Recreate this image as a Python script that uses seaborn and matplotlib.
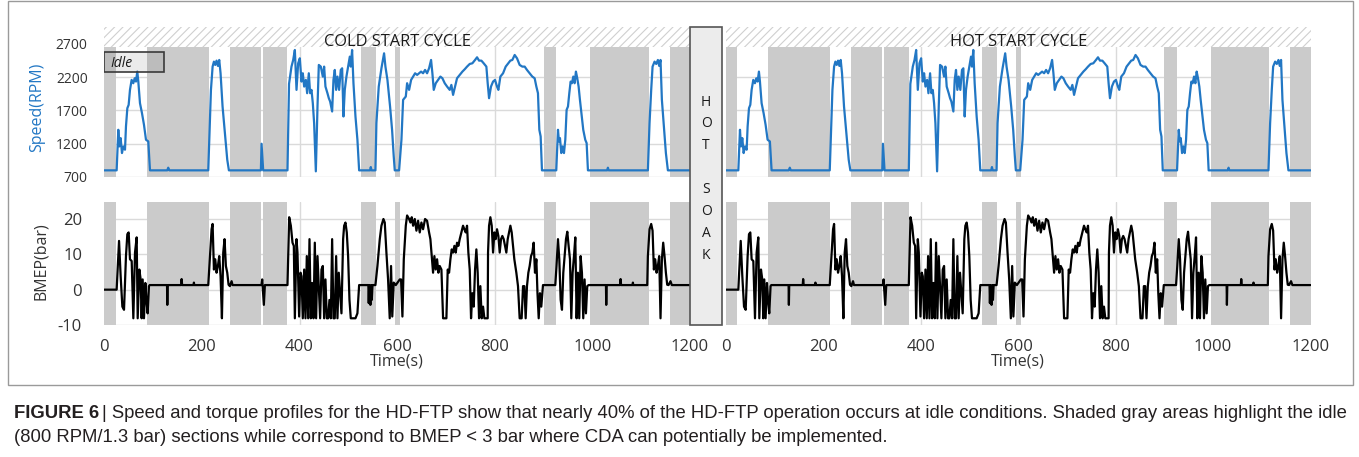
import numpy as np
import pandas as pd
import matplotlib
matplotlib.use("Agg")
import matplotlib.pyplot as plt
import seaborn as sns
from matplotlib.patches import Rectangle

# ---------------- data ----------------
speed_time = [0, 25.3, 28.7, 30.8, 33.5, 36.2, 39.0, 42.4, 44.4, 47.2, 49.9, 52.6, 56.0, 59.4, 62.2,
              64.9, 67.6, 69.7, 73.1, 77.2, 81.3, 85.4, 90.1, 93.6, 129, 131, 133, 213, 218.5, 221.9,
              224.6, 227.3, 230.0, 232.8, 235.5, 238.2, 242.3, 247.1, 251.9, 255.3, 320.8, 322.2, 325.5,
              375.3, 378.5, 383.5, 387, 390.4, 393.8, 397.2, 400.6, 404, 406.7, 409.5, 412.9, 415.6, 419,
              421.7, 424.5, 427.2, 429.9, 433.4, 436.8, 439.5, 443.6, 447.7, 450.4, 453.1, 457.2, 460,
              462.7, 466.8, 469.5, 472.2, 475, 477.7, 481.1, 484.5, 487.3, 490, 492.7, 496.1, 499.5, 503,
              505, 507.7, 510.5, 514.6, 518.6, 522.1, 544.5, 546, 547.5, 555.5, 557.5, 562.3, 567.8, 573.2,
              576, 580.1, 585.5, 589.6, 593, 595.1, 604, 608.8, 612.2, 617.7, 620.4, 624.5, 628.6, 632.7,
              636.8, 640.9, 645, 649, 653.1, 657.2, 661.3, 665.4, 669.5, 672.2, 675, 679.1, 683.8, 688.6,
              692.7, 697.5, 702.3, 707.7, 711.1, 714.6, 718.6, 722.7, 728.2, 733.7, 738.4, 743.2, 748.7,
              754.1, 759.6, 763.7, 767.8, 772.6, 777.3, 782.8, 785.5, 788.3, 792.3, 796.5, 800.5, 804.6,
              807.4, 811.5, 817, 822.4, 827.8, 831.9, 836, 840.8, 845.6, 851, 856.5, 861.3, 866, 871.5,
              876.9, 881.7, 885.2, 888.5, 891.3, 894, 896.7, 926, 929.5, 931.5, 933.6, 936.3, 939, 941.8,
              944.5, 947.2, 950, 952.7, 955.4, 958.1, 960.9, 963.6, 966.3, 969, 971.8, 974.5, 977.2, 981.3,
              985.4, 988.2, 990.9, 1030.3, 1031.8, 1033.3, 1113.7, 1117.1, 1120.5, 1123.3, 1127.4, 1130.8,
              1134.2, 1136.9, 1139.6, 1142.4, 1146.5, 1150.6, 1154.7, 1200]
speed_rpm = [800, 800, 1410, 1160, 1285, 1060, 1160, 1110, 1460, 1735, 1785, 2010, 2160, 2110, 2185,
             2135, 2285, 2135, 1810, 1660, 1485, 1260, 1235, 800, 800, 840, 800, 800, 2010, 2360,
             2435, 2385, 2450, 2370, 2460, 2260, 1760, 1360, 960, 800, 800, 1200, 800,
             800, 2100, 2360, 2460, 2610, 2010, 2410, 2485, 2135, 2260, 2060, 2160, 1960, 2260,
             1960, 2010, 1810, 1510, 785, 1760, 2385, 2360, 2210, 2360, 2060, 1960, 1885,
             1835, 1685, 2160, 2310, 2010, 2210, 2010, 2310, 2335, 1610, 2010, 2210, 2360, 2510,
             2360, 2610, 2110, 1610, 1260, 800, 800, 850, 800, 800, 1510, 2060, 2335, 2560,
             2360, 2160, 1760, 1410, 1010, 800, 800, 1260, 1860, 1910, 2110, 2010, 2160, 2210,
             2260, 2235, 2260, 2285, 2260, 2310, 2260, 2335, 2460, 2260, 2010, 2110, 2160, 2210,
             2185, 2110, 2060, 2010, 2085, 1935, 2060, 2185, 2235, 2285, 2320, 2360, 2400,
             2410, 2460, 2500, 2450, 2450, 2410, 2360, 2110, 1885, 2060, 2135, 2160, 2060,
             2010, 2210, 2260, 2360, 2410, 2450, 2460, 2535, 2485, 2385, 2360, 2360, 2310, 2260,
             2210, 2185, 2060, 1960, 1410, 1310, 800, 800, 1410, 1235, 1285, 1060, 1160, 1060,
             1260, 1710, 1760, 1960, 2135, 2110, 2210, 2110, 2285, 2185, 2060, 1860, 1685, 1410,
             1260, 1210, 800, 800, 840, 800, 800, 1510, 2010, 2360, 2435, 2400,
             2460, 2370, 2460, 1860, 1460, 1060, 800, 800]

bmep_time = [0, 25.3, 30.2, 33.5, 37, 40.4, 44.4, 47.2, 49.9, 52.6, 56.1, 59.5, 62.9, 66.3, 68.4, 71.8,
             74.5, 76.5, 78.6, 81.3, 84.1, 86.8, 88.8, 91.5, 93, 128.5, 129.1, 129.8, 157.5, 158.4, 159.5,
             183, 183.6, 184.3, 213, 219.8, 221.9, 224.6, 227.3, 230, 232.8, 235.5, 238.2, 241, 243.7,
             246.4, 249.1, 251.9, 254.6, 257.3, 260.8, 262.8, 322, 323.5, 326.9, 329, 375.3, 378.8, 382.2,
             385.6, 388.3, 390.4, 393.8, 395.8, 399.2, 402, 404, 406.7, 409.5, 412.2, 414.9, 417.7, 420.4,
             423.1, 425.8, 428.6, 431.3, 434, 436.8, 439.5, 442.2, 445, 447.7, 450.4, 453.1, 455.9, 458.6,
             461.3, 464.1, 466.8, 469.5, 472.2, 475, 477.7, 480.4, 483.2, 485.9, 489.3, 491.4, 494.1,
             496.8, 499.5, 502.3, 505, 510.5, 514.6, 518.6, 522.1, 541, 541.8, 542.8, 545.2, 546.5, 548,
             549.5, 555.5, 559.6, 564.4, 567.8, 571.9, 574.6, 578, 581.4, 584.8, 587.5, 590, 593, 597.2,
             605.4, 608, 610.8, 613.6, 617.7, 620.4, 624.5, 627.2, 629.9, 632.7, 636.1, 639.5, 642.9,
             646.3, 649.7, 653.1, 657.2, 661.3, 665.4, 668.1, 670.9, 673.6, 676.3, 679.1, 681.8, 684.5,
             687.2, 690.7, 694.1, 700.9, 703.6, 706.4, 709.1, 711.8, 714.6, 717.3, 720, 722.7, 725.5,
             728.2, 731.6, 735, 737.7, 740.5, 743.2, 745.9, 748.7, 751.4, 754.1, 756.9, 759.6, 762.3, 765,
             767.8, 770.5, 773.2, 776, 778.7, 785.5, 786.2, 788.3, 791, 793.8, 796.5, 799.2, 801.9, 804.6,
             807.4, 810.1, 812.8, 815.5, 818.3, 821, 823.7, 826.5, 829.2, 832, 834.7, 837.4, 840.1, 844.2,
             847.6, 851, 855.1, 857.9, 860.6, 863.3, 866, 868.8, 871.5, 874.3, 877, 879.7, 882.4, 885.2,
             887.5, 890, 892.6, 895.3, 898.8, 924, 926.5, 929.5, 932.2, 935, 937.7, 940.4, 943.1, 945.9,
             948.6, 951.3, 954.1, 956.8, 959.5, 962.3, 965, 967.7, 970.4, 973.1, 975.9, 978.6, 981.3, 984,
             986.8, 989.5, 992.2, 1027.8, 1028.4, 1029.2, 1057, 1057.8, 1058.8, 1082.3, 1083, 1083.8,
             1112.4, 1113.7, 1117.1, 1120.5, 1123.3, 1126, 1128.7, 1131.5, 1134.2, 1136.9, 1139.6, 1142.4,
             1145.1, 1147.8, 1150.6, 1153.3, 1156, 1160, 1162.8, 1200]
bmep_bar = [0, 0, 13.8, 3.8, -4.8, -5.7, 9.5, 15.7, 16.2, 8.6, 8.1, -8.1, 10.5, 14.8, -8.1, 5.7,
            2.9, -8.1, 2.9, -8.1, 1.9, -3.8, -6.7, 1.0, 1.3, 1.3, -4.3, 1.3, 1.3, 3.0, 1.3,
            1.3, 2.0, 1.3, 1.3, 17.1, 18.6, 5.7, 8.6, 4.8, 6.7, 9.5, 3.8, -8.1, 10.5,
            14.3, 6.7, 4.8, 1.4, 1.0, 2.4, 1.3, 1.3, 2.9, -4.3, 1.3, 1.3, 20.5, 18.1,
            13.3, 12.4, -8.1, 14.3, 10.5, -7.6, 4.8, 3.8, -8.1, 5.7, -8.1, 9.5, -8.1, 14.3,
            -8.1, 1.9, -8.1, 13.3, -8.1, 9.5, 1.0, -8.1, 5.7, 6.7, -8.1, 2.9, -8.1, -8.1,
            -2.9, -8.1, 14.3, -8.1, -8.1, 9.5, -8.1, 4.8, -1.0, -6.7, 14.3, 18.1, 19.0,
            16.2, 9.5, -2.9, -8.1, -8.1, -8.1, -6.7, 1.3, 1.3, -3.8, 1.3, -4.3, 1.3, -2.9,
            1.3, 1.3, 6.7, 14.3, 18.1, 20.0, 19.0, 10.5, 2.9, -8.1, 6.7, -7.6, 2.0, 1.3,
            2.9, 2.9, -7.6, 8.6, 18.1, 21.0, 20.0, 19.0, 20.5, 18.1, 20.0, 16.7, 19.5,
            16.2, 19.0, 17.1, 20.0, 19.5, 16.2, 14.3, 9.5, 4.8, 9.5, 5.7, 8.6, 4.8,
            6.7, 5.7, -8.1, -8.1, 5.7, 4.8, 8.6, 11.4, 10.5, 12.4, 10.5, 13.3, 12.4,
            14.3, 16.2, 18.1, 17.1, 16.2, 18.1, 10.5, 5.7, -8.1, -1.0, -4.8, 5.7, 11.4, 4.8,
            -8.1, 1.0, -8.1, -4.8, -8.1, -8.1, 10.5, 18.1, 20.5, 18.1, 10.5, 16.2, 14.3, 17.1,
            15.2, 10.5, 14.3, 15.2, 14.3, 12.4, 10.5, 14.3, 16.2, 18.1, 16.2, 12.4, 8.6, 4.8,
            1.0, -8.1, -8.1, 1.0, 1.0, -8.1, 1.0, 4.8, 6.7, 9.5, 10.5, 13.3, 4.8, 8.6,
            -1.0, -8.1, -1.0, -4.8, 1.3, 1.3, 6.7, 14.3, 8.6, -2.9, -5.7, 4.8, 9.5, 14.3,
            16.4, 12.4, 8.6, -8.1, 4.8, 9.5, 14.8, -8.1, 4.8, -8.1, 9.5, 4.8, -8.1, 2.9,
            -6.7, 1.0, 1.3, 1.3, -4.3, 1.3, 1.3, 3.0, 1.3, 1.3, 2.0, 1.3,
            1.3, 9.5, 17.1, 18.6, 16.7, 5.7, 8.6, 4.8, 6.7, 9.5, -8.1, 8.6,
            13.3, 9.5, 4.8, 1.4, 1.3, 2.4, 1.3, 1.3]

idle_start = [0, 87, 257, 325, 526, 596, 900, 996, 1158]
idle_end = [23, 214, 321, 375, 556, 605, 926, 1115, 1200]

cycle_titles = ["COLD START CYCLE", "HOT START CYCLE"]
x_ticks = [0, 200, 400, 600, 800, 1000, 1200]
speed_ticks = [700, 1200, 1700, 2200, 2700]
bmep_ticks = [-10, 0, 10, 20]
soak_letters = ["H", "O", "T", "", "S", "O", "A", "K"]
caption_bold = "FIGURE 6"
caption_line1 = ("| Speed and torque profiles for the HD-FTP show that nearly 40% of the HD-FTP operation "
                 "occurs at idle conditions. Shaded gray areas highlight the idle")
caption_line2 = ("(800 RPM/1.3 bar) sections while correspond to BMEP < 3 bar where CDA can potentially "
                 "be implemented.")

speed_df = pd.DataFrame({"Time(s)": speed_time, "Speed(RPM)": speed_rpm})
bmep_df = pd.DataFrame({"Time(s)": bmep_time, "BMEP(bar)": bmep_bar})

# ---------------- style ----------------
sns.set_theme(style="white")
plt.rcParams["font.family"] = ["Open Sans", "DejaVu Sans"]
plt.rcParams["hatch.linewidth"] = 0.8
plt.rcParams["hatch.color"] = "#cfcfcf"

W, H = 1359, 457
fig = plt.figure(figsize=(W / 100, H / 100), dpi=100)


def fx(px):
    return px / W


def fy(py):
    return 1 - py / H


BLUE = "#2277c4"
SHADE = "#cbcbcb"
GRID = "#dadada"
TXT = "#333333"

cycle_px = [(104.3, 690.0), (726.0, 1310.5)]
sp_top, sp_bot = 27, 177
bm_top, bm_bot = 202, 325
sp_ylim = (700, 700 + (sp_bot - sp_top) * 2000 / 133.0)
bm_ylim = (-10, -10 + (bm_bot - bm_top) * 30 / 106.0)
idle_top_rpm = 2650

# outer frame
fig.add_artist(Rectangle((fx(8), fy(385)), fx(1353) - fx(8), (385 - 1) / H,
                         transform=fig.transFigure, fill=False, edgecolor="#9a9a9a", lw=1.0))

for ci, (x0, x1) in enumerate(cycle_px):
    ax_s = fig.add_axes([fx(x0), fy(sp_bot), (x1 - x0) / W, (sp_bot - sp_top) / H])
    ax_b = fig.add_axes([fx(x0), fy(bm_bot), (x1 - x0) / W, (bm_bot - bm_top) / H])

    for ax, ylim, ticks in ((ax_s, sp_ylim, speed_ticks), (ax_b, bm_ylim, bmep_ticks)):
        ax.set_xlim(0, 1200)
        ax.set_ylim(*ylim)
        ax.set_xticks(x_ticks)
        ax.set_yticks(ticks)
        ax.grid(True, color=GRID, lw=1.0)
        ax.set_axisbelow(True)
        for sp in ax.spines.values():
            sp.set_visible(False)
        ax.tick_params(length=0, colors=TXT)

    # idle shading
    frac = (idle_top_rpm - sp_ylim[0]) / (sp_ylim[1] - sp_ylim[0])
    for s, e in zip(idle_start, idle_end):
        ax_s.axvspan(s, e, ymin=0, ymax=frac, facecolor=SHADE, lw=0, zorder=1)
        ax_b.axvspan(s, e, facecolor=SHADE, lw=0, zorder=1)
    ax_s.axhspan(idle_top_rpm, sp_ylim[1], facecolor="white", edgecolor="#cfcfcf",
                 hatch="////", lw=0, zorder=1.5)

    sns.lineplot(data=speed_df, x="Time(s)", y="Speed(RPM)", ax=ax_s, color=BLUE, lw=1.6,
                 estimator=None, sort=False, zorder=3)
    sns.lineplot(data=bmep_df, x="Time(s)", y="BMEP(bar)", ax=ax_b, color="black", lw=1.6,
                 estimator=None, sort=False, zorder=3)

    ax_s.set_xticklabels([])
    ax_s.set_xlabel("")
    ax_b.set_xticklabels([str(t) for t in x_ticks], fontsize=12)
    ax_b.tick_params(axis="x", pad=10)
    ax_b.set_xlabel("Time(s)", fontsize=11.5, color=TXT, labelpad=-1)

    ax_s.text(600, 2725, cycle_titles[ci], ha="center", va="center", fontsize=11.8,
              color="#1a1a1a", zorder=4)

    if ci == 0:
        ax_s.set_yticklabels([str(t) for t in speed_ticks], fontsize=10)
        ax_s.tick_params(axis="y", pad=12)
        ax_b.set_yticklabels([str(t) for t in bmep_ticks], fontsize=12)
        ax_b.tick_params(axis="y", pad=16)
        ax_s.set_ylabel("Speed(RPM)", fontsize=11.5, color=BLUE)
        ax_s.yaxis.set_label_coords(-0.101, 0.463)
        ax_b.set_ylabel("BMEP(bar)", fontsize=11.5, color=TXT)
        ax_b.yaxis.set_label_coords(-0.095, 0.516)
        # Idle legend box
        ax_s.add_patch(Rectangle((0, 2279), 122, 301, facecolor="#404040", alpha=0.10,
                                 lw=0, zorder=4))
        ax_s.add_patch(Rectangle((0, 2279), 122, 301, fill=False, edgecolor="#3a3a3a",
                                 lw=1.2, zorder=4))
        ax_s.text(11.7, 2410, "Idle", fontsize=10, style="italic", ha="left", va="center",
                  color="#1a1a1a", zorder=5)
    else:
        ax_s.set_yticklabels([])
        ax_b.set_yticklabels([])
        ax_s.set_ylabel("")
        ax_b.set_ylabel("")

# HOT SOAK box
fig.add_artist(Rectangle((fx(690), fy(325)), fx(722.3) - fx(690), (325 - 27) / H,
                         transform=fig.transFigure, facecolor="#ececec", edgecolor="#555555",
                         lw=1.2, zorder=5))
for i, ch in enumerate(soak_letters):
    if ch:
        fig.text(fx(706), fy(102 + 21.9 * i), ch, ha="center", va="center", fontsize=10,
                 color="#1a1a1a", zorder=6)

# caption
cap_family = ["Liberation Sans Narrow", "Liberation Sans", "DejaVu Sans"]
cap_size = 13.35
tb = fig.text(fx(14), fy(413), caption_bold, fontsize=cap_size, weight="bold", family=cap_family,
              color="#231f20", va="center", ha="left")
fig.canvas.draw()
bb = tb.get_window_extent(renderer=fig.canvas.get_renderer())
fig.text(bb.x1 / W + 3 / W, fy(413), caption_line1, fontsize=cap_size, family=cap_family,
         color="#231f20", va="center", ha="left")
fig.text(fx(14), fy(438), caption_line2, fontsize=cap_size, family=cap_family,
         color="#231f20", va="center", ha="left")

fig.savefig("out.png", dpi=100)
